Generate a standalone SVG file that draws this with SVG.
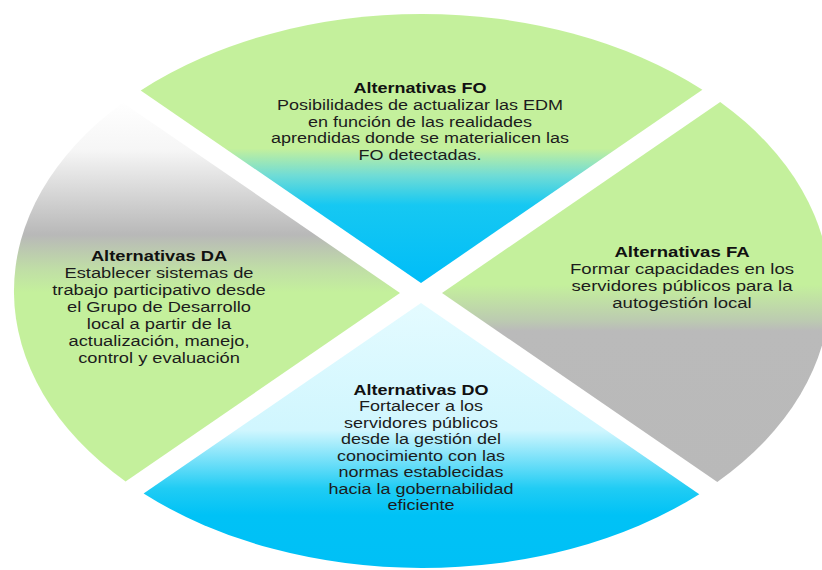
<svg xmlns="http://www.w3.org/2000/svg" width="822" height="570" viewBox="0 0 822 570">
  <style>
    .t { font-family: "Liberation Sans", Arial, sans-serif; font-size: 15px; fill: #1c1c1c; text-anchor: middle; }
    .h { font-weight: bold; fill: #111; }
  </style>
  <defs>
    <linearGradient id="gFO" gradientUnits="userSpaceOnUse" x1="0" y1="14" x2="0" y2="283">
      <stop offset="0" stop-color="#c4f09c"/>
      <stop offset="0.5" stop-color="#c4f09c"/>
      <stop offset="0.6" stop-color="#70dcd6"/>
      <stop offset="0.71" stop-color="#16c8f2"/>
      <stop offset="1" stop-color="#00bdf8"/>
    </linearGradient>
    <linearGradient id="gDA" gradientUnits="userSpaceOnUse" x1="0" y1="100" x2="0" y2="485">
      <stop offset="0" stop-color="#ffffff"/>
      <stop offset="0.13" stop-color="#f6f6f6"/>
      <stop offset="0.35" stop-color="#b8b8b8"/>
      <stop offset="0.44" stop-color="#c0dea6"/>
      <stop offset="0.5" stop-color="#c4f09c"/>
      <stop offset="1" stop-color="#c4f09c"/>
    </linearGradient>
    <linearGradient id="gFA" gradientUnits="userSpaceOnUse" x1="0" y1="100" x2="0" y2="485">
      <stop offset="0" stop-color="#c4f09c"/>
      <stop offset="0.48" stop-color="#c4f09c"/>
      <stop offset="0.57" stop-color="#bcccb0"/>
      <stop offset="0.6" stop-color="#bababa"/>
      <stop offset="1" stop-color="#b9b9b9"/>
    </linearGradient>
    <linearGradient id="gDO" gradientUnits="userSpaceOnUse" x1="0" y1="303" x2="0" y2="568">
      <stop offset="0" stop-color="#e4fbff"/>
      <stop offset="0.48" stop-color="#d0f6fe"/>
      <stop offset="0.7" stop-color="#20ccf4"/>
      <stop offset="0.8" stop-color="#00c2f6"/>
      <stop offset="1" stop-color="#00c0f6"/>
    </linearGradient>
  </defs>
  <rect width="822" height="570" fill="#ffffff"/>

  <g id="fo">
    <path d="M421,283 L140.7,90.4 A408,277 0 0 1 702.4,89.7 Z" fill="url(#gFO)"/>
    <g transform="translate(420,0) scale(1.2,1)">
      <text class="t h" x="0" y="93">Alternativas FO</text>
      <text class="t" x="0" y="110">Posibilidades de actualizar las EDM</text>
      <text class="t" x="0" y="126.6">en función de las realidades</text>
      <text class="t" x="0" y="143.4">aprendidas donde se materialicen las</text>
      <text class="t" x="0" y="160.2">FO detectadas.</text>
    </g>
  </g>

  <g id="fa">
    <path d="M442,293 L720.2,101.9 A408,277 0 0 1 717.3,482.1 Z" fill="url(#gFA)"/>
    <g transform="translate(682,0) scale(1.24,1)">
      <text class="t h" x="0" y="257">Alternativas FA</text>
      <text class="t" x="0" y="274.5">Formar capacidades en los</text>
      <text class="t" x="0" y="291.5">servidores públicos para la</text>
      <text class="t" x="0" y="308.5">autogestión local</text>
    </g>
  </g>

  <g id="do">
    <path d="M421,303 L699.3,494.2 A408,277 0 0 1 143.6,493.5 Z" fill="url(#gDO)"/>
    <g transform="translate(421,0) scale(1.2,1)">
      <text class="t h" x="0" y="395">Alternativas DO</text>
      <text class="t" x="0" y="411.5">Fortalecer a los</text>
      <text class="t" x="0" y="428">servidores públicos</text>
      <text class="t" x="0" y="444.5">desde la gestión del</text>
      <text class="t" x="0" y="461">conocimiento con las</text>
      <text class="t" x="0" y="477.5">normas establecidas</text>
      <text class="t" x="0" y="494">hacia la gobernabilidad</text>
      <text class="t" x="0" y="510.5">eficiente</text>
    </g>
  </g>

  <g id="da">
    <path d="M400,293 L125.6,481.5 A408,277 0 0 1 122.9,102.7 Z" fill="url(#gDA)"/>
    <g transform="translate(159,0) scale(1.22,1)">
      <text class="t h" x="0" y="261">Alternativas DA</text>
      <text class="t" x="0" y="278">Establecer sistemas de</text>
      <text class="t" x="0" y="295">trabajo participativo desde</text>
      <text class="t" x="0" y="312">el Grupo de Desarrollo</text>
      <text class="t" x="0" y="329">local a partir de la</text>
      <text class="t" x="0" y="346">actualización, manejo,</text>
      <text class="t" x="0" y="363">control y evaluación</text>
    </g>
  </g>
</svg>
